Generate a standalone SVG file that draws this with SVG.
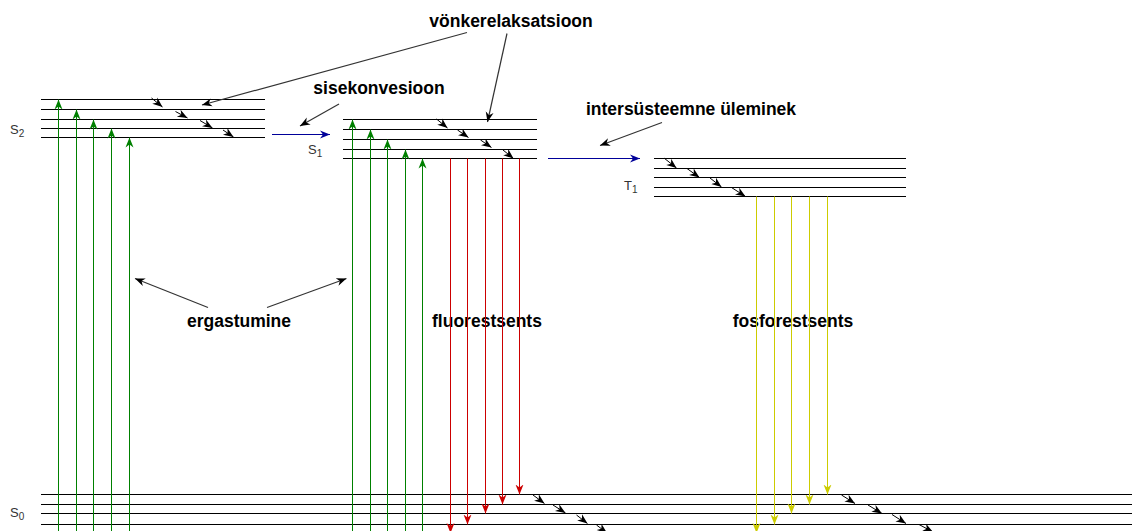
<svg xmlns="http://www.w3.org/2000/svg" width="1132" height="531" viewBox="0 0 1132 531">
<style>
.lv{stroke:#000;stroke-width:1;fill:none}
.rx{stroke:#000;stroke-width:1;fill:none;marker-end:url(#mk)}
.gr{stroke:#008000;stroke-width:1;fill:none;marker-end:url(#mg)}
.rd{stroke:#cc0000;stroke-width:1;fill:none;marker-end:url(#mr)}
.ye{stroke:#cccc00;stroke-width:1;fill:none;marker-end:url(#my)}
.bl{stroke:#000099;stroke-width:1;fill:none;marker-end:url(#mb)}
.an{stroke:#333;stroke-width:1.2;fill:none;marker-end:url(#ma)}
.lab{font-family:"Liberation Sans",Arial,sans-serif;font-weight:bold;font-size:17.5px;fill:#000;text-anchor:middle}
.st{font-family:"Liberation Sans",Arial,sans-serif;font-size:13px;fill:#333}
.sub{font-size:10px}
</style>
<defs>
<marker id="mk" viewBox="0 0 10 10" refX="10" refY="5" markerWidth="10" markerHeight="10" markerUnits="userSpaceOnUse" orient="auto"><path d="M0,1 L10,5 L0,9 L3,5 z" fill="#000"/></marker>
<marker id="mg" viewBox="0 0 10 10" refX="10" refY="5" markerWidth="10" markerHeight="10" markerUnits="userSpaceOnUse" orient="auto"><path d="M0,1 L10,5 L0,9 L3,5 z" fill="#008000"/></marker>
<marker id="mr" viewBox="0 0 10 10" refX="10" refY="5" markerWidth="10" markerHeight="10" markerUnits="userSpaceOnUse" orient="auto"><path d="M0,1 L10,5 L0,9 L3,5 z" fill="#cc0000"/></marker>
<marker id="my" viewBox="0 0 10 10" refX="10" refY="5" markerWidth="10" markerHeight="10" markerUnits="userSpaceOnUse" orient="auto"><path d="M0,1 L10,5 L0,9 L3,5 z" fill="#cccc00"/></marker>
<marker id="mb" viewBox="0 0 10 10" refX="10" refY="5" markerWidth="10" markerHeight="10" markerUnits="userSpaceOnUse" orient="auto"><path d="M0,1 L10,5 L0,9 L3,5 z" fill="#000099"/></marker>
<marker id="ma" viewBox="0 0 10 10" refX="10" refY="5" markerWidth="10" markerHeight="10" markerUnits="userSpaceOnUse" orient="auto"><path d="M0,1 L10,5 L0,9 L3,5 z" fill="#000"/></marker>
</defs>
<rect width="1132" height="531" fill="#fff"/>

<g id="S2">
<path class="lv" d="M41,99.5H265M41,109.5H265M41,119.5H265M41,128.5H265M41,137.5H265"/>
<text class="st" x="10" y="134">S<tspan class="sub" dy="3">2</tspan></text>
</g>
<g id="S1">
<path class="lv" d="M343,119.5H537M343,129.5H537M343,139.5H537M343,149.5H537M343,158.5H537"/>
<text class="st" x="308" y="154">S<tspan class="sub" dy="3">1</tspan></text>
</g>
<g id="T1">
<path class="lv" d="M654,158.5H906M654,168.5H906M654,177.5H906M654,187.5H906M654,196.5H906"/>
<text class="st" x="624" y="190">T<tspan class="sub" dy="3">1</tspan></text>
</g>
<g id="S0">
<path class="lv" d="M41,494.5H1132M41,504.5H1132M41,513.5H1132M41,524.5H1132"/>
<text class="st" x="10" y="517">S<tspan class="sub" dy="3">0</tspan></text>
</g>

<g id="labels">
<text id="vonkerelaksatsioon" class="lab" x="511" y="27">vönkerelaksatsioon</text>
<text id="sisekonvesioon" class="lab" x="379" y="94">sisekonvesioon</text>
<text id="intersysteemne" class="lab" x="691" y="115">intersüsteemne üleminek</text>
<text id="ergastumine" class="lab" x="239" y="327">ergastumine</text>
<text id="fluorestsents" class="lab" x="487" y="327">fluorestsents</text>
<text id="fosforestsents" class="lab" x="793" y="327">fosforestsents</text>
</g>

<g id="connectors">
<path class="gr" d="M58.5,531V99.5"/>
<path class="gr" d="M76.5,531V109.5"/>
<path class="gr" d="M93.5,531V119.5"/>
<path class="gr" d="M111.5,531V128.5"/>
<path class="gr" d="M129.5,531V137.5"/>
<path class="gr" d="M352.5,531V119.5"/>
<path class="gr" d="M370.5,531V129.5"/>
<path class="gr" d="M387.5,531V139.5"/>
<path class="gr" d="M405.5,531V149.5"/>
<path class="gr" d="M422.5,531V158.5"/>
<path class="rx" d="M151.5,98L162.5,107"/>
<path class="rx" d="M175.5,111.5L187.5,118"/>
<path class="rx" d="M200,120.5L212.5,128"/>
<path class="rx" d="M223,130L233.5,137"/>
<path class="rx" d="M436.5,119L447.5,128"/>
<path class="rx" d="M457.5,130L468.5,137.5"/>
<path class="rx" d="M480.5,140L491.5,147.5"/>
<path class="rx" d="M503,150L513.5,158.5"/>
<path class="rx" d="M664,158L676.5,168"/>
<path class="rx" d="M687,168.5L699.5,177.5"/>
<path class="rx" d="M710,178L721.5,187"/>
<path class="rx" d="M731.5,187.5L745.5,196.5"/>
<path class="rx" d="M533,495L544.5,503.5"/>
<path class="rx" d="M553,505L565.5,513"/>
<path class="rx" d="M576.5,515L587.5,523.5"/>
<path class="rx" d="M596.5,525L607,533"/>
<path class="rx" d="M841.5,495L855,503.5"/>
<path class="rx" d="M868,505L882,513.5"/>
<path class="rx" d="M892,514.5L906,523.5"/>
<path class="rx" d="M919,524.5L933,532"/>
<path class="bl" d="M272,134.5H330"/>
<path class="bl" d="M548,158.5H640"/>
<path class="rd" d="M450.5,158.5V533"/>
<path class="rd" d="M467.5,158.5V524.5"/>
<path class="rd" d="M485.5,158.5V513.5"/>
<path class="rd" d="M502.5,158.5V504.5"/>
<path class="rd" d="M519.5,158.5V494.5"/>
<path class="ye" d="M756.5,196.5V533"/>
<path class="ye" d="M774.5,196.5V524.5"/>
<path class="ye" d="M791.5,196.5V513.5"/>
<path class="ye" d="M809.5,196.5V504.5"/>
<path class="ye" d="M827.5,196.5V494.5"/>
<path class="an" d="M467,32.5L202,105"/>
<path class="an" d="M507,33.5L487.5,122"/>
<path class="an" d="M339,104L300,126"/>
<path class="an" d="M662,122.5L600,145.5"/>
<path class="an" d="M208,307.5L135,278.5"/>
<path class="an" d="M267,307.5L346.5,278.5"/>
</g>
</svg>
